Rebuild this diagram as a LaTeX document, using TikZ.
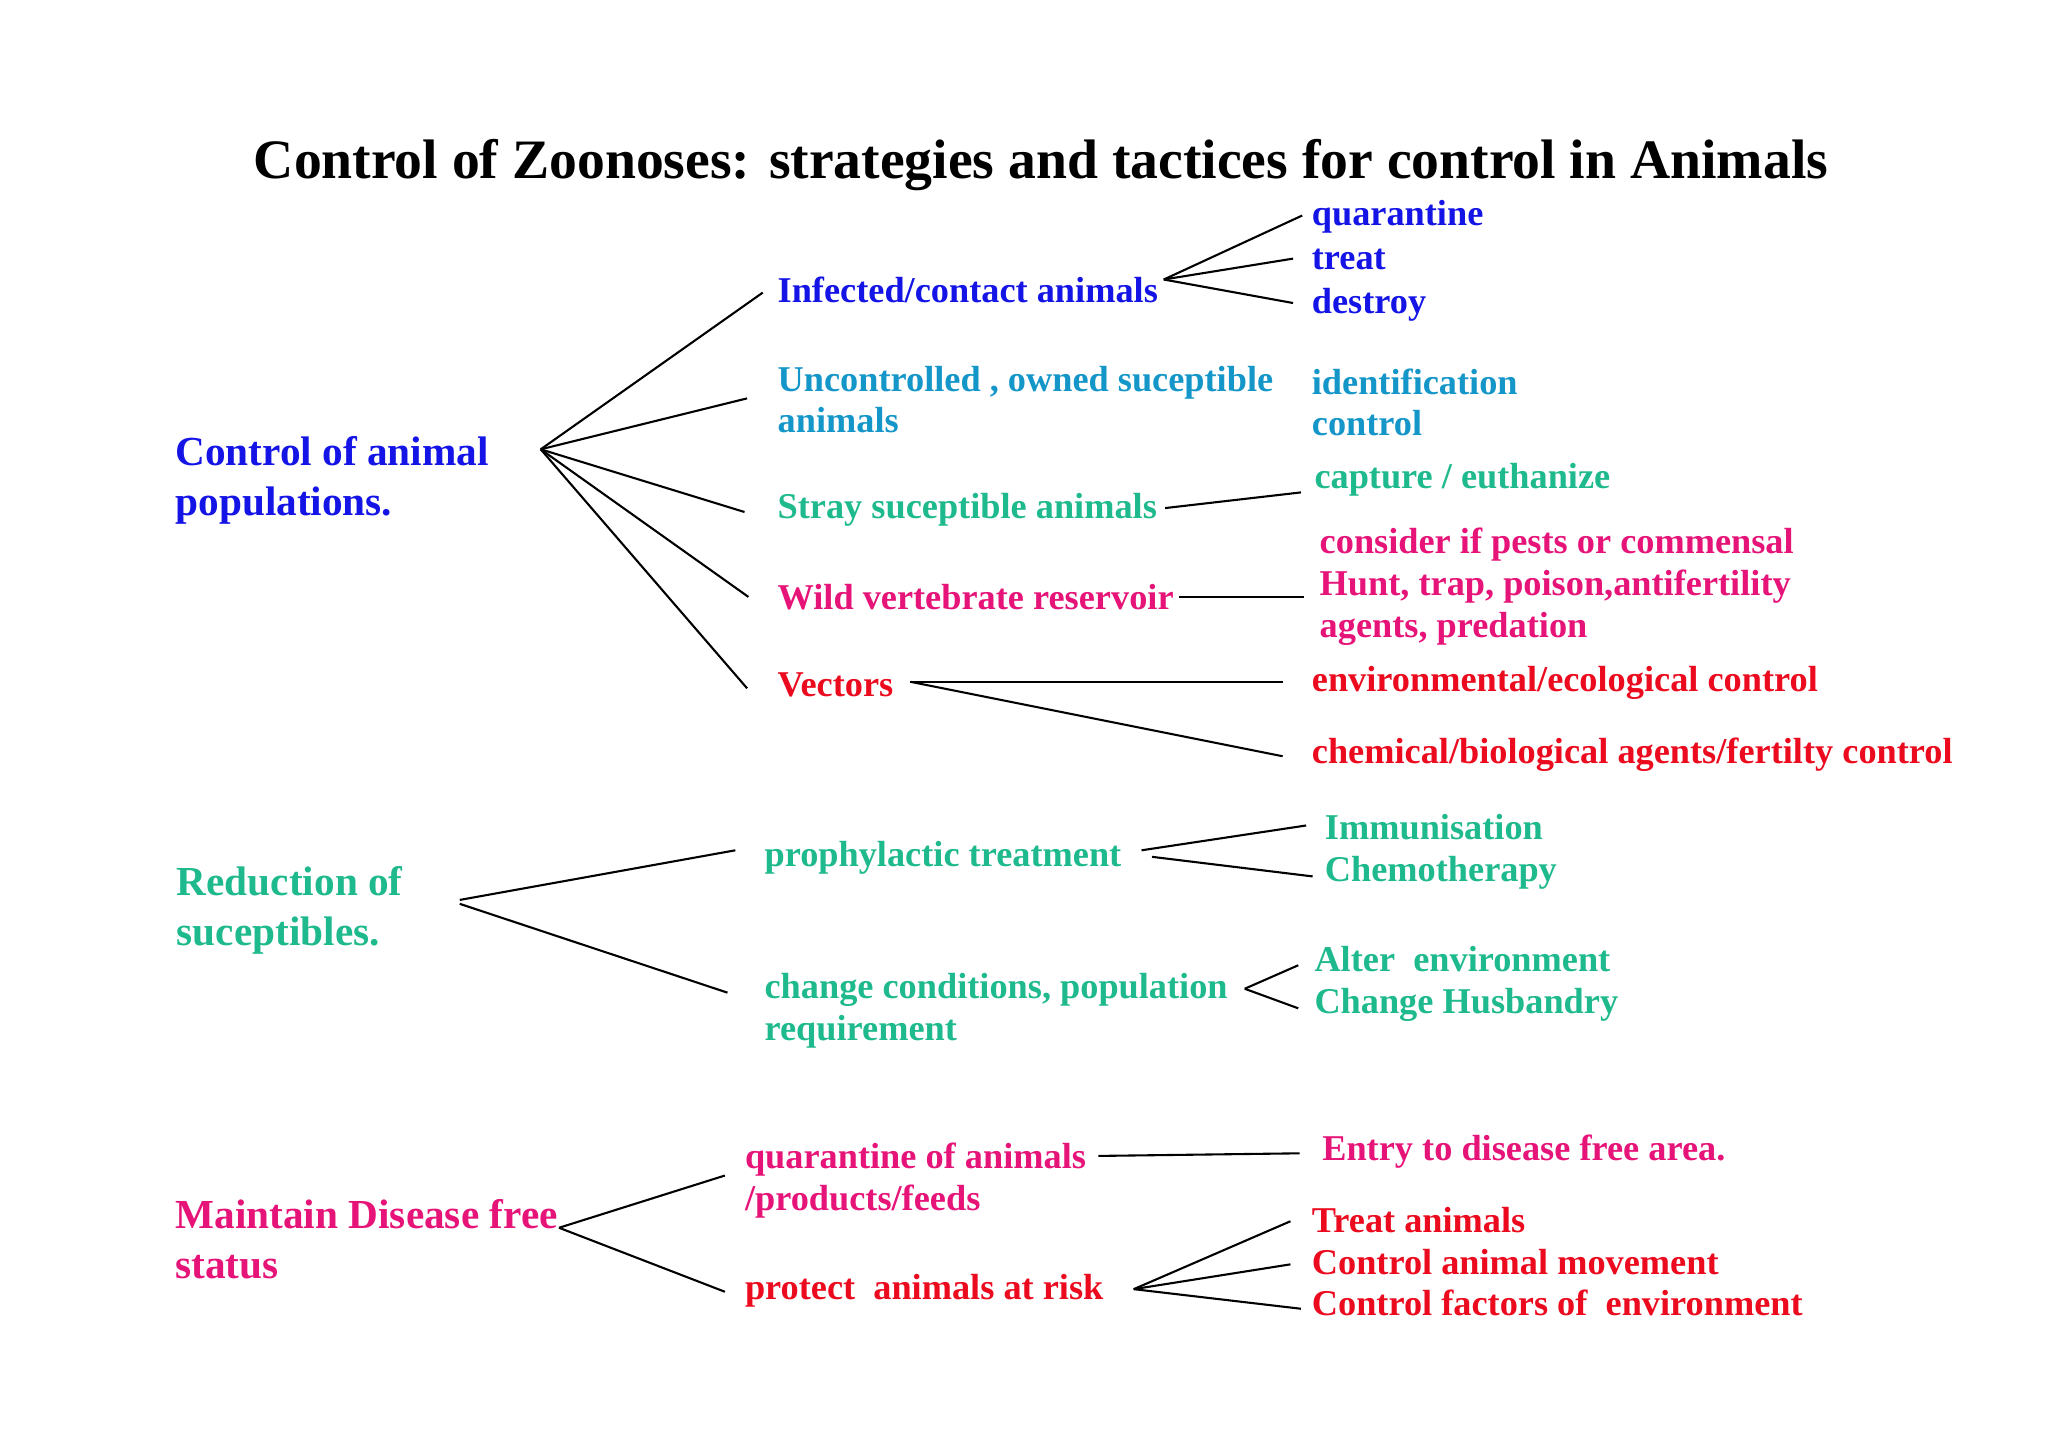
\documentclass[tikz,border=0pt]{standalone}
\usepackage{fontspec}
\setmainfont{Liberation Serif}
\definecolor{cb}{RGB}{20,20,230}
\definecolor{ct}{RGB}{20,150,200}
\definecolor{cg}{RGB}{30,185,140}
\definecolor{cm}{RGB}{230,20,120}
\definecolor{cr}{RGB}{235,10,30}
\begin{document}
\begin{tikzpicture}[x=0.5pt,y=-0.5pt,
 lab/.style={anchor=west,inner sep=0pt,font=\bfseries\fontsize{13.9}{16}\selectfont,align=left},
 big/.style={anchor=west,inner sep=0pt,font=\bfseries\fontsize{15.8}{19}\selectfont,align=left},
 ln/.style={draw=black,line width=0.8pt}]
\useasboundingbox (0,0) rectangle (1568,1108);
\node[inner sep=0pt,font=\bfseries\fontsize{21.3}{25}\selectfont] (title) at (797,126) {Control of Zoonoses: strategies and tactices for control in Animals};
% group 1
\node[big,text=cb] (g1) at (134,368) {Control of animal\\populations.};
\node[lab,text=cb] (a1) at (595,222) {Infected/contact animals};
\node[lab,text=ct] (a2) at (595,306) {Uncontrolled , owned suceptible\\animals};
\node[lab,text=cg] (a3) at (595,390) {Stray suceptible animals};
\node[lab,text=cm] (a4) at (595,457) {Wild vertebrate reservoir};
\node[lab,text=cr] (a5) at (595,524) {Vectors};
\node[lab,text=cb] (b1) at (1004,166) {quarantine};
\node[lab,text=cb] (b2) at (1004,199) {treat};
\node[lab,text=cb] (b3) at (1004,233) {destroy};
\node[lab,text=ct] (b4) at (1004,308) {identification\\control};
\node[lab,text=cg] (b5) at (1006,367) {capture / euthanize};
\node[lab,text=cm] (b6) at (1010,449) {consider if pests or commensal\\Hunt, trap, poison,antifertility\\agents, predation};
\node[lab,text=cr] (b7) at (1004,523) {environmental/ecological control};
\node[lab,text=cr] (b8) at (1004,578) {chemical/biological agents/fertilty control};
\coordinate (o1) at (414,344);
\draw[ln] (o1) -- (584,224); \draw[ln] (o1) -- (572,305); \draw[ln] (o1) -- (570,392);
\draw[ln] (o1) -- (573,457); \draw[ln] (o1) -- (572,527);
\coordinate (p1) at (891,214);
\draw[ln] (p1) -- (997,165); \draw[ln] (p1) -- (990,198); \draw[ln] (p1) -- (990,232);
\draw[ln] (892,389) -- (996,377);
\draw[ln] (903,457) -- (998,457);
\draw[ln] (697,522) -- (982,522); \draw[ln] (697,522) -- (982,579);
% group 2
\node[big,text=cg] (g2) at (135,697) {Reduction of\\suceptibles.};
\node[lab,text=cg] (c1) at (585,657) {prophylactic treatment};
\node[lab,text=cg] (c2) at (585,774) {change conditions, population\\requirement};
\node[lab,text=cg] (d1) at (1014,652) {Immunisation\\Chemotherapy};
\node[lab,text=cg] (d2) at (1006,753) {Alter\ \ environment\\Change Husbandry};
\draw[ln] (352,689) -- (563,651); \draw[ln] (352,692) -- (557,760);
\draw[ln] (874,651) -- (1000,632); \draw[ln] (882,656) -- (1005,671);
\draw[ln] (953,757) -- (994,739); \draw[ln] (953,757) -- (994,772);
% group 3
\node[big,text=cm] (g3) at (134,949) {Maintain Disease free\\status};
\node[lab,text=cm] (e1) at (570,904) {quarantine of animals\\/products/feeds};
\node[lab,text=cr] (e2) at (570,988) {protect\ \ animals at risk};
\node[lab,text=cm] (f1) at (1012,882) {Entry to disease free area.};
\node[lab,text=cr] (f2) at (1004,966) {Treat animals\\Control animal movement\\Control factors of\ \ environment};
\draw[ln] (428,940) -- (555,900); \draw[ln] (428,940) -- (555,989);
\draw[ln] (841,885) -- (995,883);
\coordinate (p3) at (868,987);
\draw[ln] (p3) -- (988,935); \draw[ln] (p3) -- (988,968); \draw[ln] (p3) -- (996,1002);
\end{tikzpicture}
\end{document}
